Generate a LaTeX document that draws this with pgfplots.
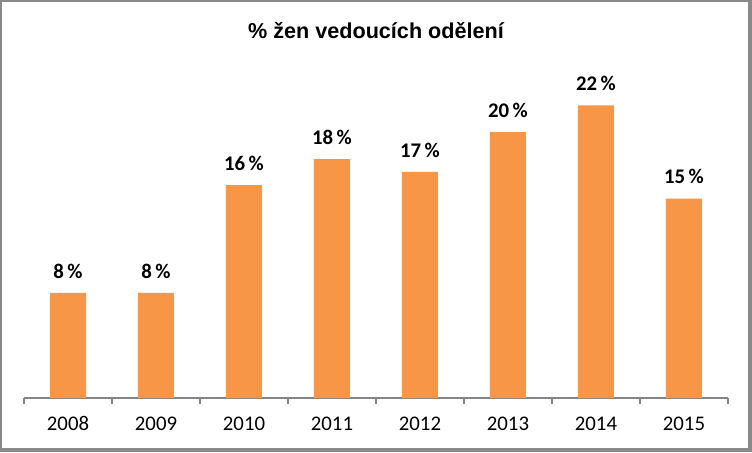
\documentclass[border=0pt]{standalone}
\usepackage{pgfplots}
\pgfplotsset{compat=1.18}
\usepackage{fontspec}
\setmainfont{Carlito}
\newfontfamily\titlefont{Liberation Sans}
\definecolor{barorange}{HTML}{F79646}
\definecolor{axgray}{HTML}{868686}
\definecolor{framegray}{HTML}{898989}
\begin{document}
\begin{tikzpicture}
\useasboundingbox (0,0) rectangle (376pt,226pt);
\fill[framegray] (0,0) rectangle (376pt,226pt);
\fill[white] (1pt,1.8pt) rectangle (374.2pt,225pt);
\node[anchor=base, font=\titlefont\bfseries\fontsize{10.8pt}{12pt}\selectfont, inner sep=0pt] at (188pt,207pt) {\% žen vedoucích odělení};
\begin{axis}[
  at={(34pt,27pt)}, anchor=origin,
  scale only axis,
  width=352pt, height=166.25pt,
  xmin=-0.5, xmax=7.5, ymin=0, ymax=25,
  axis x line*=bottom,
  axis y line=none,
  x axis line style={draw=axgray, line width=0.6pt, -},
  xtick={0,...,7},
  xticklabels={2008,2009,2010,2011,2012,2013,2014,2015},
  major tick length=0pt,
  minor xtick={-0.5,0.5,...,7.5},
  minor tick length=3.2pt,
  tick align=outside,
  minor tick style={draw=axgray, line width=0.6pt},
  xticklabel style={font=\fontsize{10.4pt}{12pt}\selectfont, yshift=-5.8pt},
  ytick=\empty,
  clip=false,
  nodes near coords,
  /pgf/number format/.cd, fixed, precision=0, assume math mode=true,
  /pgfplots/.cd,
  nodes near coords={\pgfmathprintnumber{\pgfplotspointmeta}\,\%},
  every node near coord/.append style={font=\bfseries\fontsize{10.4pt}{12pt}\selectfont, anchor=south, inner sep=0pt, yshift=7pt, text=black},
]
\addplot[ybar, bar width=18pt, fill=barorange, draw=none] coordinates {
(0,7.9) (1,7.9) (2,16.0) (3,17.97) (4,17.0) (5,20.0) (6,22.0) (7,15.0)
};
\end{axis}
\end{tikzpicture}
\end{document}
